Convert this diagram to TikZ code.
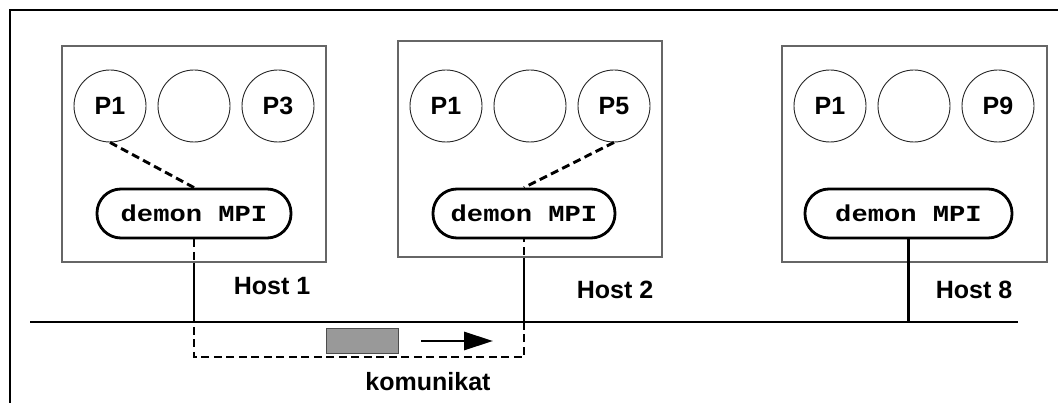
\documentclass[tikz,border=0pt]{standalone}
\usepackage{fontspec}
\setmainfont{Liberation Sans}
\newfontfamily\demonfont[FakeStretch=1.18]{Liberation Mono}
\usetikzlibrary{arrows.meta}

\tikzset{
  frameline/.style={line width=2.4pt},
  hostbox/.style={draw=black!60, line width=1.1pt, inner sep=0pt},
  proc/.style={circle, draw=black!85, line width=0.9pt, minimum size=72pt, inner sep=0pt,
               font=\fontsize{25}{29}\selectfont\bfseries},
  demon/.style={draw, line width=2.8pt, rounded corners=24pt, minimum height=49pt, inner sep=0pt,
                font=\demonfont\fontsize{23}{27}\selectfont\bfseries},
  hostlabel/.style={font=\fontsize{25}{30}\selectfont\bfseries, inner sep=0pt},
  wire/.style={line width=2.9pt},
  dashwire/.style={line width=2.9pt, dash pattern=on 8pt off 4.5pt},
  msgbox/.style={draw=black!70, fill=black!40, line width=0.9pt, minimum width=72pt,
                 minimum height=25pt, inner sep=0pt},
  flow/.style={line width=2.9pt, -{Triangle[length=29pt,width=18pt]}}
}

\begin{document}
\begin{tikzpicture}[x=1pt, y=-1pt]
  \useasboundingbox (0,0) rectangle (1058,403);

  % outer frame (top and left edges)
  \draw[frameline] (10,403) -- (10,10) -- (1058,10);

  % host boxes
  \node[hostbox, minimum width=264pt, minimum height=216pt] (h1) at (194,154) {};
  \node[hostbox, minimum width=264pt, minimum height=216pt] (h2) at (530,149) {};
  \node[hostbox, minimum width=265pt, minimum height=216pt] (h8) at (914.5,154) {};

  % processes
  \node[proc] (h1p1) at (110,106) {P1};
  \node[proc] (h1px) at (194,106) {};
  \node[proc] (h1p3) at (278,106) {P3};
  \node[proc] (h2p1) at (446,106) {P1};
  \node[proc] (h2px) at (530,106) {};
  \node[proc] (h2p5) at (614,106) {P5};
  \node[proc] (h8p1) at (830,106) {P1};
  \node[proc] (h8px) at (914,106) {};
  \node[proc] (h8p9) at (998,106) {P9};

  % MPI daemons
  \node[demon, minimum width=194pt] (d1) at (194,213.5) {demon MPI};
  \node[demon, minimum width=182pt] (d2) at (524,213.5) {demon MPI};
  \node[demon, minimum width=207pt] (d8) at (908.5,213.5) {demon MPI};

  % host labels
  \node[hostlabel] (l1) at (272,286) {Host 1};
  \node[hostlabel] (l2) at (615,290) {Host 2};
  \node[hostlabel] (l8) at (974,290) {Host 8};

  % network bus
  \coordinate (busL) at (30,322);
  \coordinate (busR) at (1018,322);
  \draw[wire] (busL) -- (busR);

  % host-to-bus links
  \draw[wire] (d1.south |- h1.south) -- (d1.south |- busL);
  \draw[wire] (d2.south |- h2.south) -- (d2.south |- busL);
  \draw[wire] (d8.south) -- (d8.south |- busL);

  % process-to-daemon links
  \draw[dashwire] (h1p1.south) -- (d1.north);
  \draw[dashwire] (h2p5.south) -- (d2.north);

  % message route between daemons
  \coordinate (low) at (0,357);
  \draw[dashwire] (d1.south) -- (d1.south |- low) -| (d2.south);

  % message and direction
  \node[msgbox] (msg) at (362,340.5) {};
  \coordinate (a0) at (421,341);
  \coordinate (a1) at (493,341);
  \draw[flow] (a0) -- (a1);
  \node[hostlabel] (kom) at (428,382) {komunikat};
\end{tikzpicture}
\end{document}
